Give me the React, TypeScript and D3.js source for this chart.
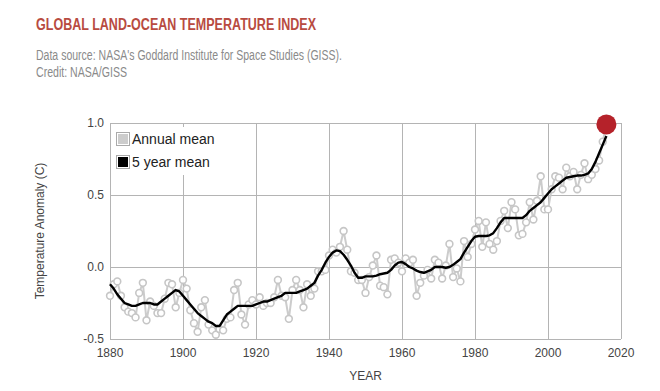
import React from 'react';
import * as d3 from 'd3';

const startYear = 1880;
const annualMean: number[] = [
  -0.20, -0.12, -0.10, -0.20, -0.28, -0.31, -0.32, -0.35, -0.18, -0.11,
  -0.37, -0.24, -0.27, -0.32, -0.32, -0.22, -0.11, -0.12, -0.28, -0.18,
  -0.09, -0.15, -0.30, -0.39, -0.45, -0.28, -0.23, -0.40, -0.44, -0.47,
  -0.43, -0.44, -0.36, -0.35, -0.16, -0.11, -0.33, -0.40, -0.26, -0.23,
  -0.26, -0.21, -0.27, -0.25, -0.25, -0.21, -0.09, -0.20, -0.21, -0.36,
  -0.16, -0.09, -0.16, -0.28, -0.12, -0.20, -0.15, -0.03, -0.03, -0.02,
  0.08, 0.12, 0.10, 0.14, 0.25, 0.12, -0.03, -0.04, -0.09, -0.09,
  -0.18, -0.07, 0.01, 0.08, -0.13, -0.14, -0.19, 0.05, 0.06, 0.03,
  -0.03, 0.06, 0.03, 0.05, -0.20, -0.11, -0.06, -0.02, -0.08, 0.05,
  0.03, -0.08, 0.01, 0.16, -0.07, -0.01, -0.10, 0.18, 0.07, 0.16,
  0.26, 0.32, 0.14, 0.31, 0.16, 0.12, 0.18, 0.32, 0.39, 0.27,
  0.45, 0.40, 0.22, 0.23, 0.31, 0.45, 0.33, 0.46, 0.63, 0.40,
  0.40, 0.54, 0.63, 0.62, 0.54, 0.69, 0.63, 0.66, 0.54, 0.64,
  0.72, 0.61, 0.64, 0.68, 0.74, 0.87, 0.99,
];
const fiveYearMean: number[] = [
  -0.12, -0.15, -0.19, -0.22, -0.25, -0.26, -0.27, -0.27, -0.26, -0.25,
  -0.25, -0.25, -0.26, -0.26, -0.24, -0.22, -0.20, -0.18, -0.16, -0.17,
  -0.20, -0.23, -0.26, -0.29, -0.32, -0.34, -0.36, -0.38, -0.39, -0.41,
  -0.41, -0.37, -0.33, -0.31, -0.29, -0.27, -0.27, -0.27, -0.27, -0.27,
  -0.26, -0.25, -0.24, -0.24, -0.23, -0.22, -0.21, -0.20, -0.18, -0.18,
  -0.18, -0.18, -0.17, -0.16, -0.15, -0.13, -0.11, -0.06, -0.02, 0.03,
  0.07, 0.10, 0.115, 0.11, 0.085, 0.05, 0.01, -0.04, -0.075, -0.075,
  -0.065, -0.065, -0.065, -0.06, -0.05, -0.045, -0.04, -0.02, 0.01, 0.03,
  0.035, 0.02, 0.00, -0.01, -0.025, -0.035, -0.04, -0.03, -0.02, 0.00,
  0.00, 0.00, -0.005, 0.00, 0.015, 0.035, 0.055, 0.10, 0.14, 0.18,
  0.21, 0.215, 0.215, 0.215, 0.22, 0.235, 0.27, 0.31, 0.34, 0.34,
  0.34, 0.34, 0.34, 0.34, 0.36, 0.39, 0.41, 0.43, 0.45, 0.48,
  0.51, 0.54, 0.56, 0.58, 0.60, 0.62, 0.625, 0.63, 0.635, 0.635,
  0.64, 0.65, 0.68, 0.73, 0.79, 0.85, 0.91,
];
const xTicks = [1880, 1900, 1920, 1940, 1960, 1980, 2000, 2020];
const yTicks = [-0.5, 0.0, 0.5, 1.0];
const highlightYear = 2016;

const W = 660, H = 391;
const left = 110, right = 621, top = 123, bottom = 339;
const FONT = "'Liberation Sans', Arial, sans-serif";

export default function App() {
  const x = d3.scaleLinear().domain([1880, 2020]).range([left, right]);
  const y = d3.scaleLinear().domain([-0.5, 1.0]).range([bottom, top]);
  const annual = annualMean.map((v, i) => ({ yr: startYear + i, v }));
  const smooth = fiveYearMean.map((v, i) => ({ yr: startYear + i, v }));
  const line = d3.line<{ yr: number; v: number }>().x(d => x(d.yr)).y(d => y(d.v));
  const hl = annual.find(d => d.yr === highlightYear)!;
  const gridColor = '#b4b4b4';

  return (
    <svg width={W} height={H} style={{ position: 'absolute', left: 0, top: 0, background: '#fff' }} fontFamily={FONT}>
      <rect x={0} y={0} width={W} height={H} fill="#fff" />
      <text x={36} y={30} fontSize={16.5} fontWeight="bold" fill="#b84b41" textLength={280} lengthAdjust="spacingAndGlyphs">GLOBAL LAND-OCEAN TEMPERATURE INDEX</text>
      <text x={36} y={60} fontSize={14} fill="#8a8a8a" textLength={306} lengthAdjust="spacingAndGlyphs">Data source: NASA's Goddard Institute for Space Studies (GISS).</text>
      <text x={36} y={77} fontSize={14} fill="#8a8a8a" textLength={91} lengthAdjust="spacingAndGlyphs">Credit: NASA/GISS</text>

      {/* grid */}
      {xTicks.map(t => (
        <line key={'gx' + t} x1={x(t)} x2={x(t)} y1={top} y2={bottom} stroke={gridColor} strokeWidth={1} shapeRendering="crispEdges" />
      ))}
      {yTicks.map(t => (
        <line key={'gy' + t} x1={left} x2={right} y1={y(t)} y2={y(t)} stroke={gridColor} strokeWidth={1} shapeRendering="crispEdges" />
      ))}

      {/* legend background */}
      <rect x={113} y={127} width={108} height={48} fill="#fff" />

      {/* annual series */}
      <path d={line(annual) || ''} fill="none" stroke="#cccccc" strokeWidth={2} />
      {annual.map(d => (
        <circle key={'c' + d.yr} cx={x(d.yr)} cy={y(d.v)} r={3.4} fill="#fff" stroke="#c6c6c6" strokeWidth={1.6} />
      ))}
      <path d={line(smooth) || ''} fill="none" stroke="#000" strokeWidth={2.4} strokeLinejoin="round" />
      <circle cx={x(hl.yr)} cy={y(hl.v)} r={10} fill="#b5222a" />

      {/* axes labels */}
      {yTicks.map(t => (
        <text key={'ty' + t} x={104} y={y(t) + 4} fontSize={12} fill="#444" textAnchor="end">{t.toFixed(1)}</text>
      ))}
      {xTicks.map(t => (
        <text key={'tx' + t} x={x(t)} y={357} fontSize={12} fill="#444" textAnchor="middle">{t}</text>
      ))}
      <text x={(left + right) / 2} y={380} fontSize={12} fill="#444" textAnchor="middle">YEAR</text>
      <text transform={`translate(44,${(top + bottom) / 2}) rotate(-90)`} fontSize={12} fill="#444" textAnchor="middle">Temperature Anomaly (C)</text>

      {/* legend */}
      <rect x={116.5} y={132.5} width={13} height={13} fill="#fff" stroke="#aaa" />
      <rect x={118} y={134} width={10} height={10} fill="#cccccc" />
      <text x={132} y={144} fontSize={14} fill="#222">Annual mean</text>
      <rect x={116.5} y={155.5} width={13} height={13} fill="#fff" stroke="#aaa" />
      <rect x={118} y={157} width={10} height={10} fill="#000" />
      <text x={132} y={167} fontSize={14} fill="#222">5 year mean</text>
    </svg>
  );
}
